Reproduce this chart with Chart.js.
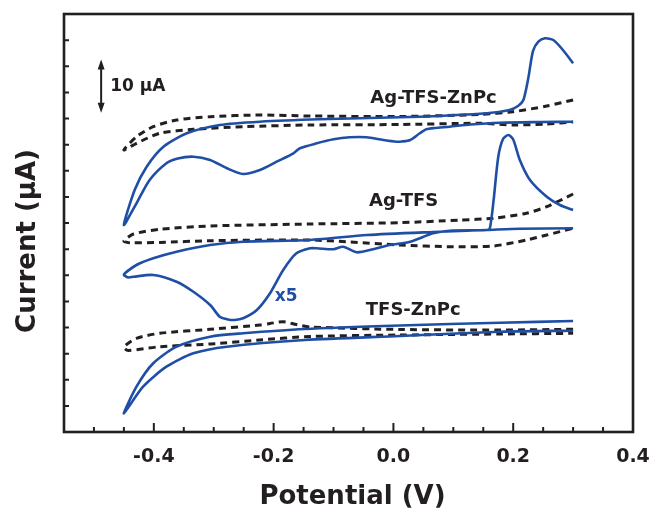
<!DOCTYPE html>
<html>
<head>
<meta charset="utf-8">
<script src="https://cdn.jsdelivr.net/npm/chart.js@4.4.1/dist/chart.umd.min.js"></script>
<style>
  html, body { margin: 0; padding: 0; background: #fff; }
  #wrap { width: 651px; height: 516px; }
</style>
</head>
<body>
<div id="wrap"><canvas id="cv" width="651" height="516"></canvas></div>
<script>
// Potential (V) and current (uA, arbitrary offset).
// Each trace is one continuous path around the voltammogram loop.

// Ag-TFS-ZnPc, solid (return branch right->left, then forward branch with anodic peak)
const agZnPcSolidV = [0.3, 0.245, 0.178, 0.128, 0.094, 0.069, 0.055, 0.044, 0.028, 0.014, 0.005, -0.017, -0.045, -0.073, -0.1, -0.128, -0.156, -0.167, -0.195, -0.223, -0.251, -0.278, -0.306, -0.334, -0.36, -0.379, -0.407, -0.429, -0.45,
  -0.432, -0.412, -0.384, -0.345, -0.29, -0.223, -0.123, 0.044, 0.156, 0.194, 0.208, 0.217, 0.225, 0.233, 0.242, 0.253, 0.267, 0.283, 0.3]
const agZnPcSolidI = [59.39, 59.33, 59.2, 58.85, 58.43, 58.18, 57.93, 57.17, 55.89, 55.6, 55.56, 55.89, 56.4, 56.4, 56.02, 55.25, 54.3, 53.34, 51.73, 50.14, 49.38, 50.47, 52.06, 52.69, 52.34, 51.43, 48.23, 43.77, 39.62,
  46.32, 50.78, 54.6, 57.17, 58.76, 59.39, 59.85, 60.34, 61.0, 61.63, 62.39, 63.54, 67.6, 72.9, 74.7, 75.35, 75.02, 73.11, 70.57]

// Ag-TFS-ZnPc, dashed
const agZnPcDashV = [0.3, 0.256, 0.2, 0.144, 0.011, -0.139, -0.223, -0.306, -0.362, -0.401, -0.429, -0.45,
  -0.429, -0.39, -0.334, -0.251, -0.139, 0.011, 0.144, 0.2, 0.256, 0.3]
const agZnPcDashI = [63.54, 62.39, 61.3, 60.77, 60.38, 60.48, 60.67, 60.34, 59.71, 58.43, 56.52, 53.97,
  55.25, 57.17, 57.93, 58.43, 58.76, 58.85, 59.08, 58.76, 58.95, 59.33]

// Ag-TFS, solid (x5)
const agTfsSolidV = [0.3, 0.211, 0.156, 0.066, -0.044, -0.139, -0.251, -0.306, -0.362, -0.401, -0.429, -0.45,
  -0.443, -0.434, -0.401, -0.362, -0.334, -0.306, -0.29, -0.276, -0.265, -0.251, -0.228, -0.206, -0.184, -0.162, -0.139, -0.128, -0.1, -0.084, -0.061, -0.034, -0.006, 0.028, 0.066, 0.094, 0.156, 0.161, 0.167, 0.175, 0.183, 0.192, 0.2, 0.211, 0.228, 0.256, 0.278, 0.3]
const agTfsSolidI = [38.99, 38.91, 38.66, 38.28, 37.7, 36.75, 36.42, 35.79, 34.51, 33.24, 31.96, 30.14,
  29.57, 29.72, 30.05, 28.77, 26.85, 24.31, 22.07, 21.53, 21.44, 21.76, 23.35, 26.55, 31.0, 34.2, 35.16, 35.16, 34.97, 35.46, 34.39, 34.97, 35.79, 36.42, 38.03, 38.53, 38.66, 38.99, 44.08, 52.63, 56.08, 56.84, 55.98, 52.06, 48.23, 45.03, 43.44, 42.49]

// Ag-TFS, dashed
const agTfsDashV = [0.3, 0.256, 0.222, 0.167, 0.111, 0.011, -0.139, -0.306, -0.39, -0.434, -0.45,
  -0.44, -0.39, -0.306, -0.139, -0.073, 0.011, 0.094, 0.167, 0.222, 0.256, 0.3]
const agTfsDashI = [45.55, 43.12, 41.86, 40.9, 40.57, 40.06, 39.81, 39.43, 38.79, 37.89, 36.56,
  36.23, 36.27, 36.61, 36.75, 36.36, 35.79, 35.46, 35.6, 36.75, 37.7, 38.99]

// TFS-ZnPc, solid
const tfsZnPcSolidV = [0.3, 0.178, 0.011, -0.148, -0.251, -0.306, -0.362, -0.401, -0.429, -0.45,
  -0.418, -0.379, -0.334, -0.278, -0.148, 0.011, 0.178, 0.3]
const tfsZnPcSolidI = [21.24, 20.92, 20.38, 19.71, 18.89, 18.24, 16.33, 13.15, 8.67, 3.54,
  8.67, 12.5, 15.06, 16.33, 17.61, 18.37, 19.2, 19.39]

// TFS-ZnPc, dashed
const tfsZnPcDashV = [0.3, 0.178, 0.011, -0.139, -0.162, -0.184, -0.206, -0.223, -0.306, -0.39, -0.429, -0.45,
  -0.443, -0.39, -0.306, -0.223, -0.139, 0.011, 0.178, 0.3]
const tfsZnPcDashI = [19.66, 19.52, 19.62, 20.1, 20.57, 21.11, 20.77, 20.48, 19.66, 18.89, 17.93, 16.27,
  15.6, 16.33, 16.84, 17.61, 18.28, 18.56, 18.76, 18.89]

// annotations: [text, potential, current]
const traceLabels = [
  ["Ag-TFS-ZnPc", 0.067, 63.9],
  ["Ag-TFS", 0.017, 44.1],
  ["TFS-ZnPc", 0.033, 23.35]
]
const scaleFactorLabel = ["x5", -0.179, 25.9]
const scaleBar = { v: -0.488, from: 61.1, to: 71.3, text: "10 \u03bcA" }

const xMin = -0.55, xMax = 0.4
const yMin = 0, yMax = 80

const BLUE = '#1f4fa5'
const INK = '#231f20'
const FONT = '"DejaVu Sans", sans-serif'

function pts(xs, ys) {
  return xs.map((x, i) => ({ x: x, y: ys[i] }))
}

function solid(xs, ys) {
  return { data: pts(xs, ys), borderColor: BLUE, borderWidth: 2.6, showLine: true, pointRadius: 0, tension: 0.25, fill: false }
}

function dashed(xs, ys) {
  return { data: pts(xs, ys), borderColor: INK, borderWidth: 3, borderDash: [7, 5], showLine: true, pointRadius: 0, tension: 0.25, fill: false }
}

// frame, inward ticks, labels and axis titles
const decorations = {
  id: 'decorations',
  afterDraw(chart) {
    const ctx = chart.ctx
    const area = chart.chartArea
    const xs = chart.scales.x
    const ys = chart.scales.y
    ctx.save()

    // ticks
    ctx.strokeStyle = INK
    ctx.lineWidth = 2
    ctx.beginPath()
    for (let k = -10; k <= 7; k++) {
      const v = k * 0.05
      const px = xs.getPixelForValue(v)
      const len = (k % 4 === 0) ? 9 : 5
      ctx.moveTo(px, area.bottom)
      ctx.lineTo(px, area.bottom - len)
    }
    for (let v = 5; v < yMax; v += 5) {
      const py = ys.getPixelForValue(v)
      ctx.moveTo(area.left, py)
      ctx.lineTo(area.left + 5, py)
    }
    ctx.stroke()

    // frame
    ctx.lineWidth = 2.6
    ctx.strokeRect(area.left, area.top, area.right - area.left, area.bottom - area.top)

    // trace labels
    ctx.fillStyle = INK
    ctx.textAlign = 'center'
    ctx.textBaseline = 'middle'
    ctx.font = 'bold 18px ' + FONT
    traceLabels.forEach(([t, v, i]) => {
      ctx.fillText(t, xs.getPixelForValue(v), ys.getPixelForValue(i))
    })
    ctx.fillStyle = BLUE
    ctx.font = 'bold 17px ' + FONT
    ctx.fillText(scaleFactorLabel[0], xs.getPixelForValue(scaleFactorLabel[1]), ys.getPixelForValue(scaleFactorLabel[2]))

    // 10 uA scale bar
    const bx = xs.getPixelForValue(scaleBar.v)
    const y1 = ys.getPixelForValue(scaleBar.to)
    const y2 = ys.getPixelForValue(scaleBar.from)
    ctx.strokeStyle = INK
    ctx.fillStyle = INK
    ctx.lineWidth = 2
    ctx.beginPath()
    ctx.moveTo(bx, y1 + 6)
    ctx.lineTo(bx, y2 - 6)
    ctx.stroke()
    ctx.beginPath()
    ctx.moveTo(bx, y1); ctx.lineTo(bx - 3.5, y1 + 10); ctx.lineTo(bx + 3.5, y1 + 10); ctx.closePath()
    ctx.moveTo(bx, y2); ctx.lineTo(bx - 3.5, y2 - 10); ctx.lineTo(bx + 3.5, y2 - 10); ctx.closePath()
    ctx.fill()
    ctx.textAlign = 'left'
    ctx.font = 'bold 17px ' + FONT
    ctx.fillText(scaleBar.text, bx + 9, (y1 + y2) / 2)

    // axis titles
    ctx.textAlign = 'center'
    ctx.font = 'bold 26px ' + FONT
    ctx.fillText('Potential (V)', (area.left + area.right) / 2 + 4, 497)
    ctx.translate(28, (area.top + area.bottom) / 2 + 18)
    ctx.rotate(-Math.PI / 2)
    ctx.fillText('Current (\u03bcA)', 0, 0)

    ctx.restore()
  }
}

new Chart(document.getElementById('cv'), {
  type: 'scatter',
  data: {
    datasets: [
      solid(agZnPcSolidV, agZnPcSolidI),
      solid(agTfsSolidV, agTfsSolidI),
      solid(tfsZnPcSolidV, tfsZnPcSolidI),
      dashed(agZnPcDashV, agZnPcDashI),
      dashed(agTfsDashV, agTfsDashI),
      dashed(tfsZnPcDashV, tfsZnPcDashI)
    ]
  },
  options: {
    responsive: false,
    animation: false,
    devicePixelRatio: 1,
    layout: { padding: { left: 64, top: 14, right: 18, bottom: 0 } },
    plugins: { legend: { display: false }, tooltip: { enabled: false } },
    scales: {
      x: {
        type: 'linear',
        min: xMin,
        max: xMax,
        afterFit(s) {
          s.height = 84
          s.paddingLeft = 0
          s.paddingRight = 0
        },
        grid: { display: false, drawTicks: false },
        border: { display: false },
        ticks: {
          stepSize: 0.05,
          autoSkip: false,
          maxRotation: 0,
          padding: 14,
          color: INK,
          font: { family: FONT, size: 19, weight: 'bold' },
          callback: (v) => (Math.round(v * 100) % 20 === 0) ? v.toFixed(1) : ''
        }
      },
      y: {
        type: 'linear',
        min: yMin,
        max: yMax,
        display: false
      }
    }
  },
  plugins: [decorations]
})
</script>
</body>
</html>
